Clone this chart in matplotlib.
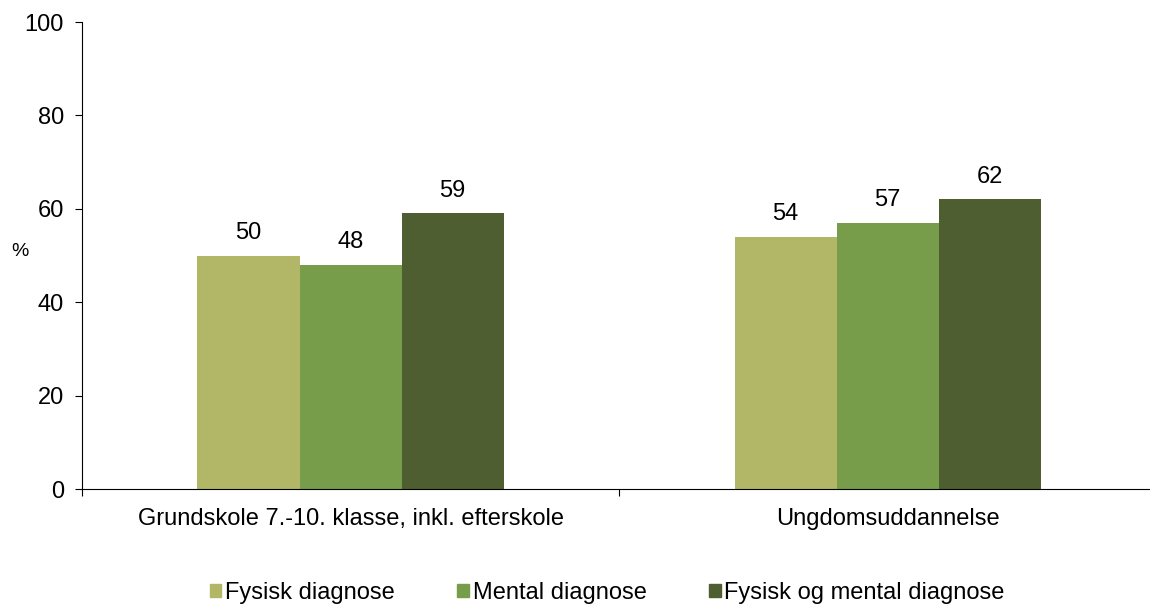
import numpy as np
from matplotlib import pyplot as plt
from matplotlib.patches import Patch

plt.rcParams['font.family'] = ['Liberation Sans', 'DejaVu Sans']

categories = ["Grundskole 7.-10. klasse, inkl. efterskole", "Ungdomsuddannelse"]
series_names = ["Fysisk diagnose", "Mental diagnose", "Fysisk og mental diagnose"]
fysisk = [50, 54]
mental = [48, 57]
begge = [59, 62]
colors = ["#B1B766", "#789D4A", "#4F5E31"]

fig = plt.figure(figsize=(11.5, 6.08), dpi=100)
ax = fig.add_axes([0.0713, 0.1957, 0.934, 0.7681])

x = np.arange(len(categories))
w = 0.19
for i, (vals, col) in enumerate(zip([fysisk, mental, begge], colors)):
    pos = x + (i - 1) * w
    ax.bar(pos, vals, width=w, color=col)
    for p, v in zip(pos, vals):
        ax.text(p, v + 2.5, str(v), ha='center', va='bottom', fontsize=17)

ax.set_xlim(-0.5, 1.5)
ax.set_ylim(0, 100)
ax.set_yticks(np.arange(0, 101, 20))
ax.tick_params(axis='y', labelsize=17, length=5, pad=8)
ax.set_xticks([-0.5, 0.5, 1.5])
ax.set_xticklabels([])
ax.tick_params(axis='x', length=5)
ax.set_xticks(x, minor=True)
ax.set_xticklabels(categories, minor=True, fontsize=17)
ax.tick_params(axis='x', which='minor', length=0, pad=14)

ax.spines['top'].set_visible(False)
ax.spines['right'].set_visible(False)

fig.text(20 / 1150, 1 - 251 / 608, "%", fontsize=14, ha='center', va='center')

handles = [Patch(color=c) for c in colors]
fig.legend(handles, series_names, loc='center', bbox_to_anchor=(0.528, 1 - 593 / 608),
           ncol=3, frameon=False, fontsize=17, handlelength=0.5, handleheight=0.5,
           handletextpad=0.15, columnspacing=2.65)

fig.savefig("out.png", dpi=100)
